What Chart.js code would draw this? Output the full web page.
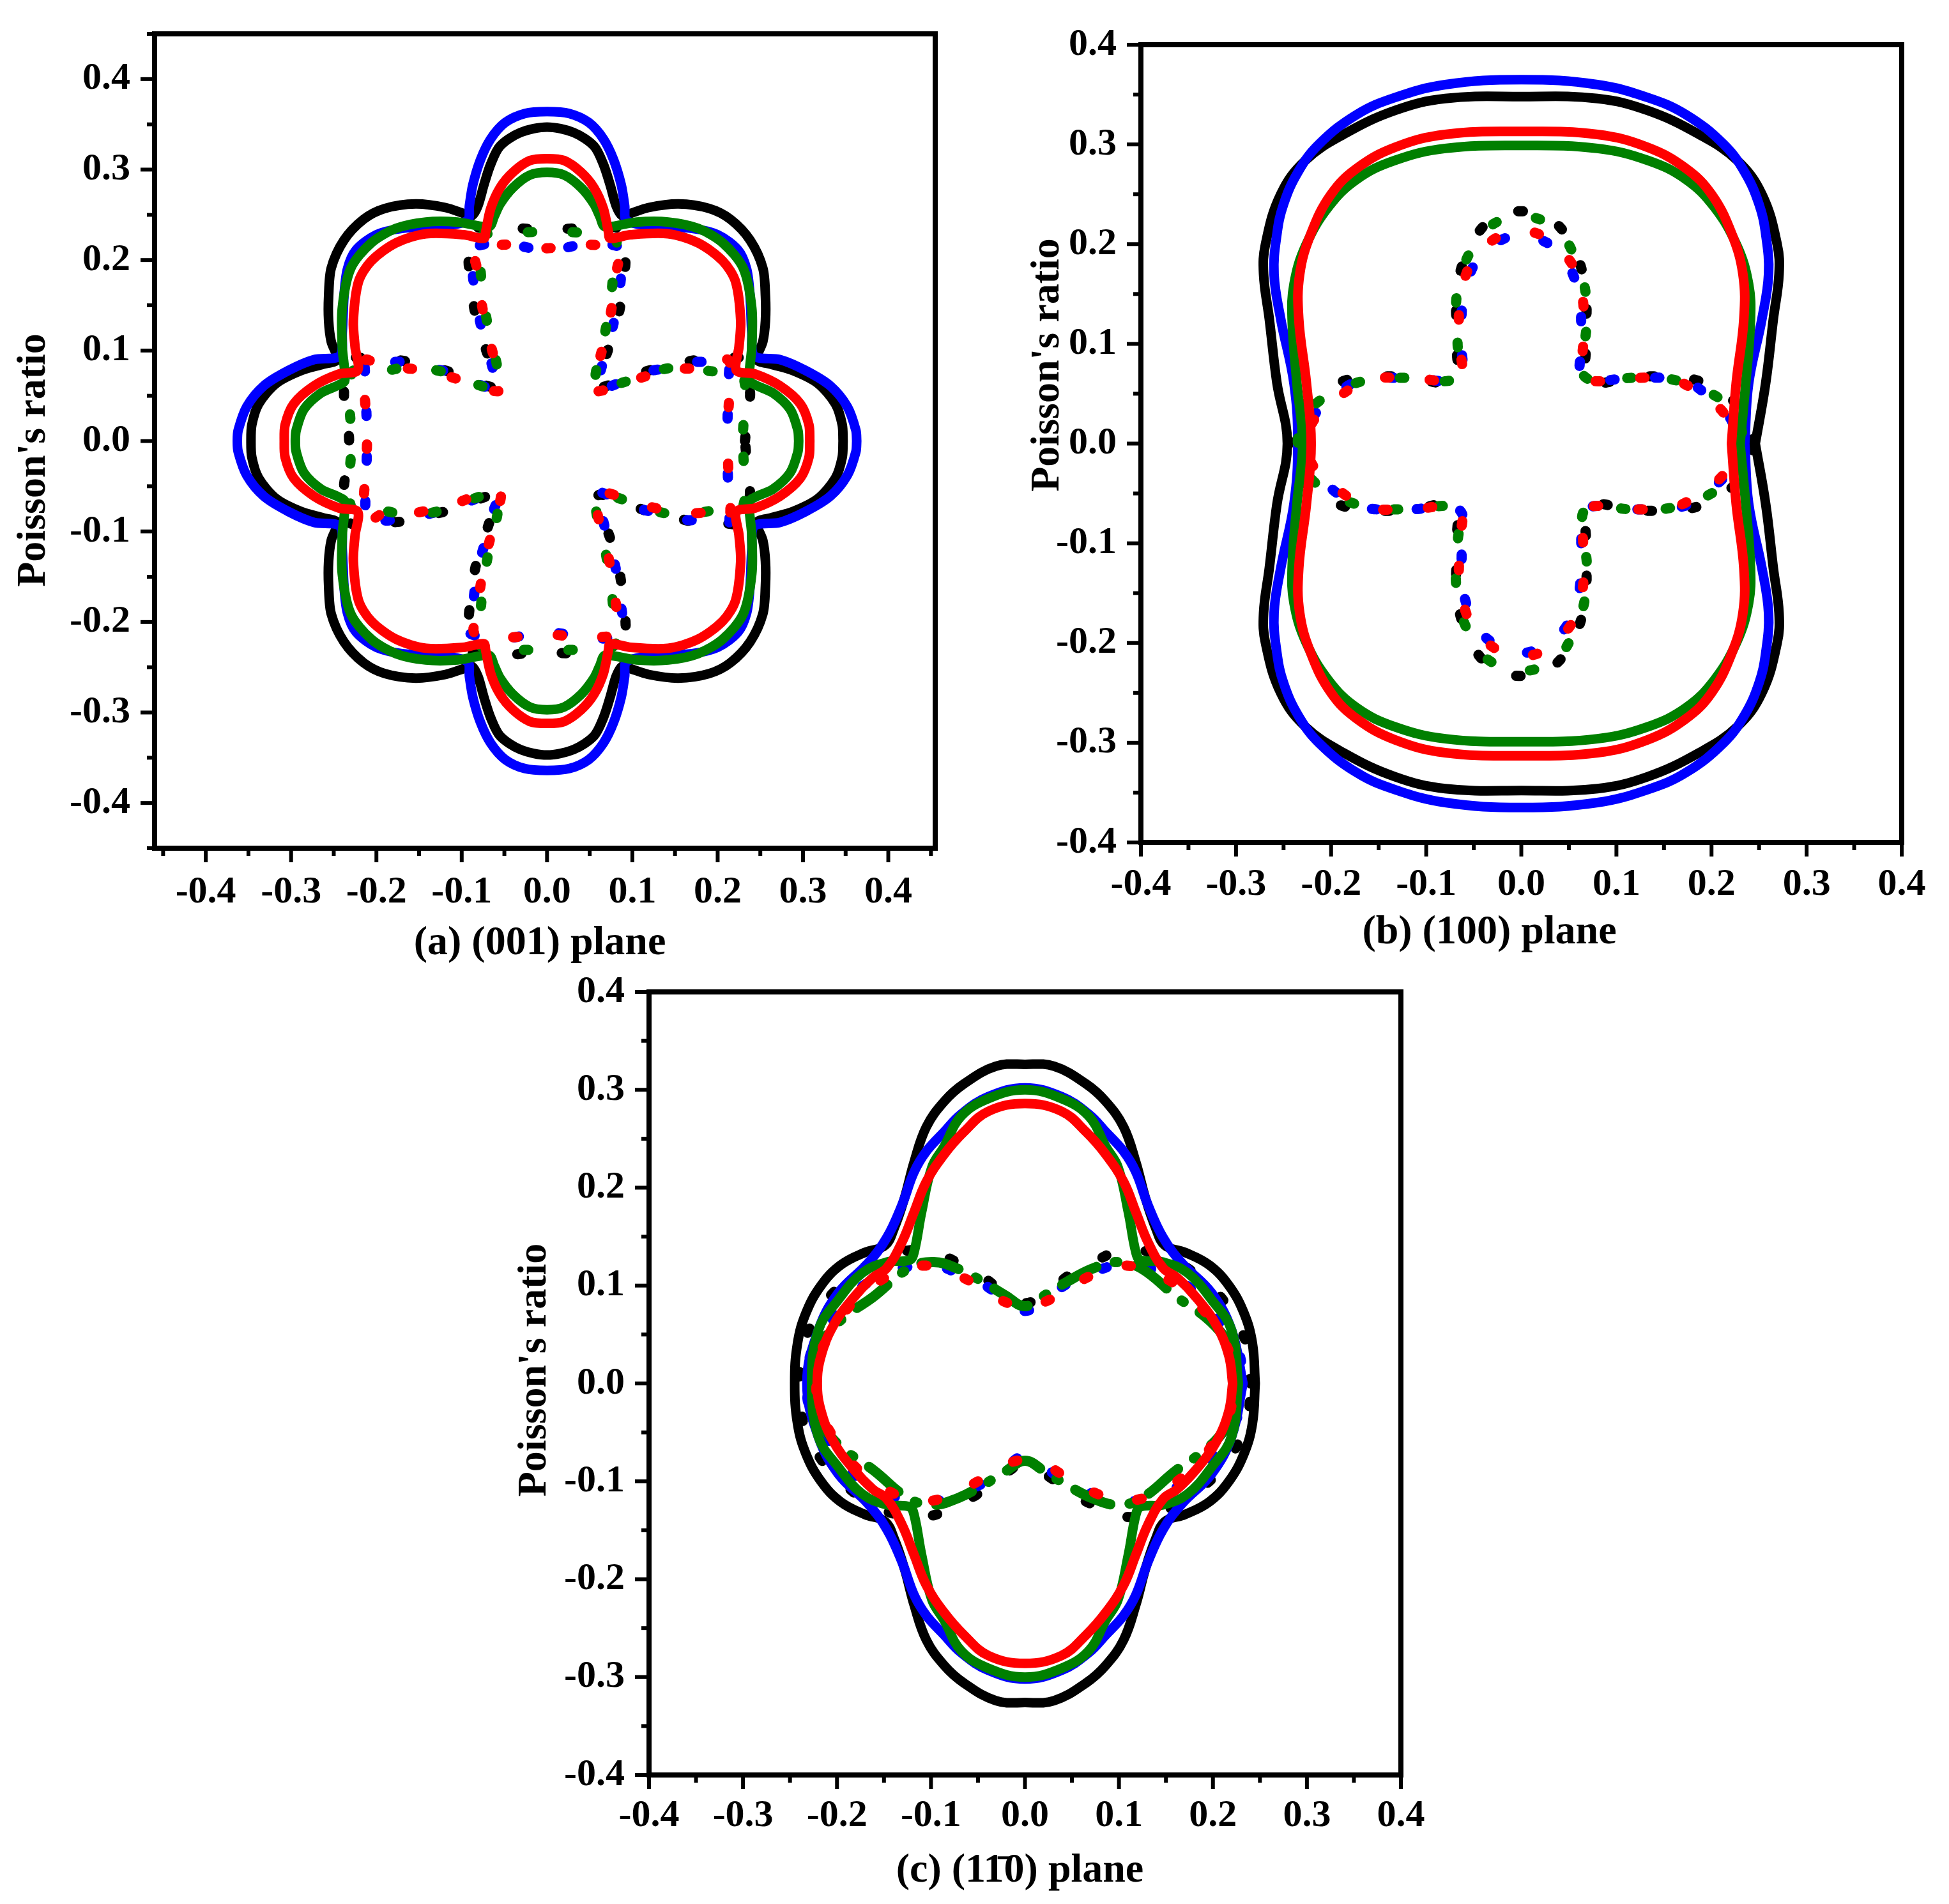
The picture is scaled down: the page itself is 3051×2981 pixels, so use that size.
<!DOCTYPE html>
<html lang="en">
<head>
<meta charset="UTF-8">
<title>Poisson's ratio</title>
<script src="https://cdn.jsdelivr.net/npm/chart.js"></script>
<style>
  body { margin: 0; background: #fff; width: 3051px; height: 2981px; position: relative; overflow: hidden; }
  canvas { position: absolute; }
</style>
</head>
<body>
<canvas id="chartA" width="1500" height="1560" style="left:0;top:0"></canvas>
<canvas id="chartB" width="1531" height="1560" style="left:1520px;top:0"></canvas>
<canvas id="chartC" width="1600" height="1461" style="left:700px;top:1520px"></canvas>
<script>
// tick labels
const ticksMajor = [-0.4, -0.3, -0.2, -0.1, 0.0, 0.1, 0.2, 0.3, 0.4];

// first-quadrant traces [x, y], from the x axis round to the y axis
// (the other three quadrants are the mirror images)

// (a) (001) plane - solid = max, dashed = min
const aBlackMax = [[0.347,0],[0.346,0.018],[0.338,0.041],[0.317,0.064],[0.288,0.078],[0.262,0.085],[0.246,0.09],[0.253,0.11],[0.256,0.133],[0.256,0.16],[0.253,0.191],[0.238,0.222],[0.215,0.245],[0.19,0.257],[0.154,0.262],[0.119,0.258],[0.096,0.251],[0.088,0.249],[0.081,0.26],[0.074,0.283],[0.066,0.306],[0.055,0.326],[0.031,0.341],[0,0.347]];
const aBlueMax  = [[0.363,0],[0.362,0.012],[0.352,0.038],[0.332,0.061],[0.303,0.078],[0.273,0.09],[0.243,0.094],[0.24,0.12],[0.238,0.16],[0.234,0.19],[0.224,0.211],[0.2,0.228],[0.17,0.235],[0.12,0.238],[0.093,0.244],[0.091,0.26],[0.087,0.283],[0.078,0.311],[0.066,0.334],[0.049,0.352],[0.026,0.362],[0,0.364]];
const aGreenMax = [[0.295,0],[0.294,0.012],[0.285,0.035],[0.265,0.053],[0.244,0.062],[0.237,0.067],[0.24,0.104],[0.24,0.147],[0.23,0.191],[0.206,0.219],[0.177,0.235],[0.142,0.242],[0.105,0.242],[0.068,0.237],[0.062,0.248],[0.055,0.262],[0.04,0.28],[0.02,0.294],[0,0.297]];
const aRedMax   = [[0.308,0],[0.307,0.018],[0.297,0.041],[0.273,0.061],[0.244,0.074],[0.222,0.078],[0.225,0.104],[0.227,0.133],[0.221,0.176],[0.206,0.199],[0.177,0.219],[0.142,0.229],[0.098,0.228],[0.074,0.224],[0.072,0.231],[0.066,0.257],[0.055,0.28],[0.04,0.297],[0.02,0.31],[0,0.312]];
const aBlackMin = [[0.232,0],[0.235,0.03],[0.238,0.053],[0.232,0.09],[0.2,0.09],[0.171,0.089],[0.14,0.082],[0.116,0.077],[0.085,0.066],[0.06,0.06],[0.066,0.085],[0.077,0.116],[0.084,0.14],[0.089,0.171],[0.092,0.2],[0.09,0.232],[0.053,0.238],[0.03,0.235],[0,0.234]];
const aBlueMin  = [[0.211,0],[0.212,0.04],[0.213,0.07],[0.212,0.093],[0.19,0.088],[0.16,0.087],[0.136,0.08],[0.113,0.076],[0.084,0.064],[0.055,0.056],[0.062,0.075],[0.071,0.107],[0.078,0.13],[0.084,0.159],[0.088,0.19],[0.093,0.211],[0.055,0.219],[0.018,0.213],[0,0.211]];
const aGreenMin = [[0.229,0],[0.231,0.03],[0.233,0.055],[0.225,0.08],[0.195,0.077],[0.16,0.082],[0.12,0.076],[0.09,0.065],[0.058,0.058],[0.058,0.08],[0.068,0.12],[0.075,0.16],[0.078,0.19],[0.08,0.225],[0.05,0.23],[0.017,0.231],[0,0.232]];
const aRedMin   = [[0.211,0],[0.213,0.04],[0.215,0.07],[0.212,0.09],[0.192,0.08],[0.16,0.08],[0.136,0.076],[0.11,0.07],[0.084,0.061],[0.055,0.056],[0.06,0.084],[0.071,0.124],[0.078,0.16],[0.082,0.19],[0.085,0.212],[0.05,0.217],[0.018,0.215],[0,0.213]];

// (b) (100) plane
const bBlackMax = [[0.246,0],[0.257,0.061],[0.265,0.125],[0.271,0.17],[0.269,0.2],[0.253,0.25],[0.227,0.284],[0.187,0.31],[0.133,0.334],[0.08,0.346],[0,0.348]];
const bBlueMax  = [[0.235,0],[0.239,0.06],[0.253,0.125],[0.26,0.17],[0.257,0.21],[0.25,0.24],[0.235,0.272],[0.213,0.3],[0.173,0.33],[0.133,0.347],[0.08,0.36],[0,0.365]];
const bGreenMax = [[0.23,0],[0.236,0.061],[0.241,0.125],[0.239,0.16],[0.227,0.198],[0.203,0.237],[0.173,0.265],[0.133,0.284],[0.08,0.296],[0,0.299]];
const bRedMax   = [[0.221,0],[0.226,0.061],[0.234,0.125],[0.233,0.17],[0.221,0.211],[0.2,0.25],[0.173,0.276],[0.133,0.297],[0.08,0.31],[0,0.313]];
const bBlackMin = [[0.245,0],[0.235,0.03],[0.216,0.048],[0.195,0.06],[0.169,0.066],[0.12,0.067],[0.072,0.063],[0.068,0.1],[0.068,0.149],[0.06,0.185],[0.045,0.212],[0.025,0.228],[0,0.233]];
const bBlueMin  = [[0.228,0],[0.22,0.025],[0.2,0.045],[0.17,0.063],[0.12,0.066],[0.066,0.066],[0.063,0.1],[0.062,0.14],[0.055,0.168],[0.04,0.192],[0.017,0.206],[0,0.21]];
const bGreenMin = [[0.235,0],[0.225,0.03],[0.2,0.05],[0.16,0.064],[0.12,0.066],[0.068,0.066],[0.067,0.1],[0.069,0.125],[0.066,0.16],[0.055,0.19],[0.036,0.216],[0,0.228]];
const bRedMin   = [[0.226,0],[0.215,0.028],[0.192,0.047],[0.16,0.064],[0.12,0.066],[0.066,0.066],[0.065,0.1],[0.065,0.142],[0.058,0.17],[0.048,0.187],[0.025,0.207],[0,0.213]];

// (c) (1-10) plane
const cBlackMax = [[0.245,0],[0.242,0.041],[0.233,0.072],[0.217,0.1],[0.196,0.121],[0.17,0.134],[0.149,0.141],[0.139,0.159],[0.128,0.19],[0.118,0.226],[0.105,0.262],[0.086,0.288],[0.065,0.306],[0.031,0.324],[0,0.326]];
const cBlueMax  = [[0.232,0],[0.22,0.054],[0.199,0.092],[0.167,0.123],[0.147,0.149],[0.131,0.182],[0.118,0.216],[0.105,0.237],[0.086,0.257],[0.068,0.275],[0.039,0.293],[0,0.302]];
const cGreenMax = [[0.227,0],[0.22,0.054],[0.199,0.085],[0.173,0.113],[0.147,0.124],[0.123,0.126],[0.118,0.134],[0.11,0.175],[0.099,0.221],[0.086,0.242],[0.068,0.273],[0.039,0.291],[0,0.3]];
const cRedMax   = [[0.221,0],[0.217,0.028],[0.204,0.059],[0.183,0.087],[0.162,0.108],[0.147,0.118],[0.131,0.144],[0.118,0.175],[0.105,0.206],[0.086,0.234],[0.065,0.257],[0.039,0.278],[0,0.286]];
const cBlackMin = [[0.24,0],[0.238,0.03],[0.232,0.05],[0.215,0.08],[0.19,0.105],[0.16,0.125],[0.13,0.135],[0.099,0.135],[0.075,0.125],[0.052,0.114],[0.025,0.095],[0,0.082]];
const cBlueMin  = [[0.232,0],[0.228,0.03],[0.215,0.05],[0.19,0.085],[0.16,0.107],[0.13,0.118],[0.094,0.12],[0.07,0.112],[0.047,0.103],[0.02,0.085],[0,0.074]];
const cGreenMin = [[0.226,0],[0.222,0.03],[0.212,0.048],[0.192,0.068],[0.162,0.088],[0.123,0.118],[0.097,0.124],[0.071,0.117],[0.045,0.104],[0.021,0.09],[0,0.079]];
const cRedMin   = [[0.222,0],[0.218,0.03],[0.207,0.05],[0.19,0.075],[0.17,0.094],[0.145,0.11],[0.123,0.118],[0.1,0.12],[0.075,0.112],[0.05,0.1],[0.025,0.085],[0,0.078]];

const FONT = '"Liberation Serif", "Times New Roman", serif';

// mirror a first-quadrant trace into a closed loop
function loop(q) {
    let pts = [];
    q.forEach(p => pts.push({x: p[0], y: p[1]}));
    for (let i = q.length - 2; i >= 0; i--) pts.push({x: -q[i][0], y: q[i][1]});
    for (let i = 1; i < q.length; i++) pts.push({x: -q[i][0], y: -q[i][1]});
    for (let i = q.length - 2; i >= 0; i--) pts.push({x: q[i][0], y: -q[i][1]});
    return pts;
}

function line(q, color, order, dash, offset, tension) {
    return {
        data: loop(q),
        showLine: true,
        borderColor: color,
        borderWidth: dash ? 16 : 15,
        borderDash: dash || [],
        borderDashOffset: offset || 0,
        borderCapStyle: 'round',
        borderJoinStyle: 'round',
        tension: tension,
        pointRadius: 0,
        order: order
    };
}

// frame, tick marks and axis titles
const frameTicks = {
    id: 'frameTicks',
    afterDraw(chart, args, o) {
        const ctx = chart.ctx, a = chart.chartArea;
        const xs = chart.scales.x, ys = chart.scales.y;
        ctx.save();
        ctx.strokeStyle = '#000';
        ctx.lineWidth = 6;
        ctx.lineCap = 'butt';
        function marks(scale, horiz) {
            let vals = [];
            ticksMajor.forEach((v, i) => {
                vals.push([v, 22]);
                if (i < ticksMajor.length - 1) vals.push([(v + ticksMajor[i + 1]) / 2, 12]);
            });
            vals.push([ticksMajor[0] - 0.05, 12], [ticksMajor[ticksMajor.length - 1] + 0.05, 12]);
            vals.forEach(([v, len]) => {
                if (v < scale.min - 1e-6 || v > scale.max + 1e-6) return;
                const p = scale.getPixelForValue(v);
                ctx.beginPath();
                if (horiz) { ctx.moveTo(p, a.bottom); ctx.lineTo(p, a.bottom + len); }
                else { ctx.moveTo(a.left, p); ctx.lineTo(a.left - len, p); }
                ctx.stroke();
            });
        }
        marks(xs, true);
        marks(ys, false);
        ctx.lineWidth = 8;
        ctx.lineJoin = 'miter';
        ctx.strokeRect(a.left, a.top, a.right - a.left, a.bottom - a.top);

        ctx.fillStyle = '#000';
        ctx.font = 'bold 64px ' + FONT;
        ctx.textAlign = 'center';
        ctx.textBaseline = 'middle';
        ctx.fillText(o.xTitle, (a.left + a.right) / 2 + o.xDx, a.bottom + o.xDy);
        ctx.translate(a.left - o.yDx, (a.top + a.bottom) / 2 + o.yDy);
        ctx.rotate(-Math.PI / 2);
        ctx.fillText("Poisson's ratio", 0, 0);
        ctx.restore();
    }
};

function axis(lim, size, pad, isX) {
    return {
        type: 'linear',
        min: lim[0], max: lim[1],
        afterBuildTicks: s => { s.ticks = ticksMajor.map(v => ({value: v})); },
        afterFit: s => {
            if (isX) s.height = size; else s.width = size;
            s.paddingTop = 0; s.paddingBottom = 0; s.paddingLeft = 0; s.paddingRight = 0;
        },
        grid: { display: false, drawTicks: false },
        border: { display: false },
        ticks: {
            padding: pad,
            autoSkip: false,
            maxRotation: 0,
            color: '#000',
            font: { family: FONT, size: 60, weight: 'bold' },
            callback: v => (Math.round(v * 10) / 10).toFixed(1)
        }
    };
}

function makeChart(id, sets, xlim, ylim, box, titles) {
    const [k, bl, g, r, kd, bd, gd, rd] = sets;
    const t = box.tension;
    new Chart(document.getElementById(id), {
        type: 'scatter',
        data: {
            datasets: [
                line(k, '#000000', 8, null, 0, t), line(kd, '#000000', 7, [7, 63], 0, t),
                line(bl, '#0000ff', 6, null, 0, t), line(bd, '#0000ff', 5, [7, 63], 35, t),
                line(g, '#008000', 4, null, 0, t), line(gd, '#008000', 3, titles.greenDash || [7, 63], 52, t),
                line(r, '#ff0000', 2, null, 0, t), line(rd, '#ff0000', 1, [7, 63], 17, t)
            ]
        },
        options: {
            responsive: false,
            animation: false,
            layout: { padding: { top: box.top, right: box.right, left: 0, bottom: 0 } },
            plugins: { legend: { display: false }, tooltip: { enabled: false }, frameTicks: titles },
            scales: {
                x: axis(xlim, box.xh, box.xpad, true),
                y: axis(ylim, box.yw, 38, false)
            }
        },
        plugins: [frameTicks]
    });
}

makeChart('chartA',
    [aBlackMax, aBlueMax, aGreenMax, aRedMax, aBlackMin, aBlueMin, aGreenMin, aRedMin],
    [-0.46, 0.455], [-0.45, 0.45],
    { top: 53, right: 36, xh: 232, yw: 242, xpad: 33, tension: 0.3 },
    { xTitle: '(a) (001) plane', xDx: -8, xDy: 149, yDx: 189, yDy: 30 });

makeChart('chartB',
    [bBlackMax, bBlueMax, bGreenMax, bRedMax, bBlackMin, bBlueMin, bGreenMin, bRedMin],
    [-0.4, 0.4], [-0.4, 0.4],
    { top: 70, right: 74, xh: 241, yw: 266, xpad: 30, tension: 0.4 },
    { xTitle: '(b) (100) plane', xDx: -50, xDy: 141, yDx: 146, yDy: -123 });

makeChart('chartC',
    [cBlackMax, cBlueMax, cGreenMax, cRedMax, cBlackMin, cBlueMin, cGreenMin, cRedMin],
    [-0.4, 0.4], [-0.4, 0.4],
    { top: 33, right: 107, xh: 202, yw: 316, xpad: 28, tension: 0.4 },
    { xTitle: '(c) (11\u03040) plane', xDx: -8, xDy: 150, yDx: 179, yDy: -21, greenDash: [60, 30, 4, 30] });
</script>
</body>
</html>
